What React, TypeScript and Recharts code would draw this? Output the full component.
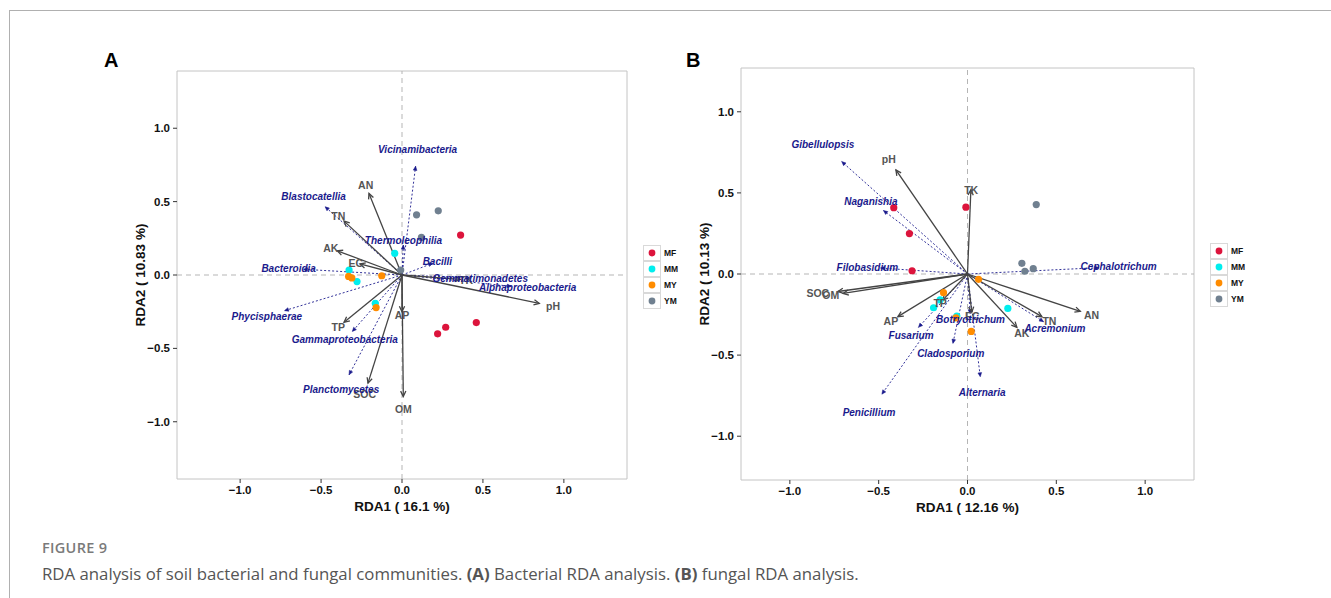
import React from 'react';
import { ScatterChart, Scatter, XAxis, YAxis, ReferenceLine, ReferenceArea, Label } from 'recharts';

type Pt = { x: number; y: number };
type Vec = { name: string; x: number; y: number };

// ---------- shared ----------
const groups = ['MF', 'MM', 'MY', 'YM'];
const groupColors: Record<string, string> = { MF: '#DC143C', MM: '#00EEEE', MY: '#FF8C00', YM: '#708090' };
const axisTicks = [-1, -0.5, 0, 0.5, 1];

// ---------- Panel A: bacteria ----------
const bacMF: Pt[] = [{ x: 0.362, y: 0.272 }, { x: 0.22, y: -0.401 }, { x: 0.27, y: -0.356 }, { x: 0.459, y: -0.324 }];
const bacMM: Pt[] = [{ x: -0.045, y: 0.148 }, { x: -0.327, y: 0.034 }, { x: -0.278, y: -0.045 }, { x: -0.165, y: -0.193 }];
const bacMY: Pt[] = [{ x: -0.33, y: -0.01 }, { x: -0.31, y: -0.02 }, { x: -0.125, y: -0.005 }, { x: -0.16, y: -0.222 }];
const bacYM: Pt[] = [{ x: 0.09, y: 0.41 }, { x: 0.224, y: 0.437 }, { x: 0.12, y: 0.256 }, { x: -0.008, y: 0.034 }];

const bacEnv: Vec[] = [
  { name: 'AN', x: -0.204, y: 0.556 },
  { name: 'TN', x: -0.358, y: 0.367 },
  { name: 'AK', x: -0.4, y: 0.165 },
  { name: 'EC', x: -0.26, y: 0.075 },
  { name: 'TK', x: 0.36, y: -0.03 },
  { name: 'pH', x: 0.848, y: -0.193 },
  { name: 'AP', x: 0.0, y: -0.25 },
  { name: 'TP', x: -0.358, y: -0.322 },
  { name: 'SOC', x: -0.21, y: -0.737 },
  { name: 'OM', x: 0.008, y: -0.828 },
];

const bacTaxa: Vec[] = [
  { name: 'Vicinamibacteria', x: 0.084, y: 0.741 },
  { name: 'Blastocatellia', x: -0.475, y: 0.465 },
  { name: 'Thermoleophilia', x: 0.008, y: 0.204 },
  { name: 'Bacteroidia', x: -0.609, y: 0.039 },
  { name: 'Bacilli', x: 0.19, y: 0.08 },
  { name: 'Gemmatimonadetes', x: 0.42, y: -0.02 },
  { name: 'Alphaproteobacteria', x: 0.675, y: -0.077 },
  { name: 'Phycisphaerae', x: -0.726, y: -0.243 },
  { name: 'Gammaproteobacteria', x: -0.307, y: -0.385 },
  { name: 'Planctomycetes', x: -0.327, y: -0.68 },
];

// ---------- Panel B: fungi ----------
const funMF: Pt[] = [{ x: -0.415, y: 0.409 }, { x: -0.009, y: 0.412 }, { x: -0.327, y: 0.249 }, { x: -0.312, y: 0.02 }];
const funMM: Pt[] = [{ x: -0.154, y: -0.16 }, { x: -0.191, y: -0.208 }, { x: -0.06, y: -0.259 }, { x: 0.227, y: -0.212 }];
const funMY: Pt[] = [{ x: 0.062, y: -0.033 }, { x: -0.135, y: -0.115 }, { x: 0.021, y: -0.354 }, { x: -0.065, y: -0.27 }];
const funYM: Pt[] = [{ x: 0.387, y: 0.428 }, { x: 0.306, y: 0.066 }, { x: 0.323, y: 0.017 }, { x: 0.37, y: 0.033 }];

const funEnv: Vec[] = [
  { name: 'pH', x: -0.403, y: 0.642 },
  { name: 'TK', x: 0.019, y: 0.52 },
  { name: 'SOC', x: -0.73, y: -0.108 },
  { name: 'OM', x: -0.7, y: -0.12 },
  { name: 'AP', x: -0.392, y: -0.263 },
  { name: 'TP', x: -0.14, y: -0.161 },
  { name: 'EC', x: 0.024, y: -0.236 },
  { name: 'AK', x: 0.278, y: -0.329 },
  { name: 'TN', x: 0.419, y: -0.263 },
  { name: 'AN', x: 0.635, y: -0.23 },
];

const funTaxa: Vec[] = [
  { name: 'Gibellulopsis', x: -0.708, y: 0.693 },
  { name: 'Naganishia', x: -0.473, y: 0.391 },
  { name: 'Filobasidium', x: -0.49, y: 0.037 },
  { name: 'Cephalotrichum', x: 0.74, y: 0.039 },
  { name: 'Botryotrichum', x: 0.015, y: -0.245 },
  { name: 'Fusarium', x: -0.276, y: -0.329 },
  { name: 'Cladosporium', x: -0.082, y: -0.428 },
  { name: 'Alternaria', x: 0.072, y: -0.634 },
  { name: 'Penicillium', x: -0.482, y: -0.741 },
  { name: 'Acremonium', x: 0.428, y: -0.294 },
];

// ---------- styling ----------
const FONT = '"Liberation Sans", Arial, Helvetica, sans-serif';
const CAPTION_FONT = '"Open Sans", "Noto Sans", sans-serif';
const ENV_COLOR = '#444444';
const ENV_TEXT = '#555555';
const SPP_COLOR = '#1a1a8c';
const ENV_LABEL_SCALE = 1.1;
const SPP_LABEL_SCALE = 1.15;

const fmt = (v: number) => (v < 0 ? '\u2212' : '') + Math.abs(v).toFixed(1);

function arrowHead(x1: number, y1: number, x2: number, y2: number, L: number, a: number) {
  const ang = Math.atan2(y2 - y1, x2 - x1);
  return {
    ax: x2 - L * Math.cos(ang - a),
    ay: y2 - L * Math.sin(ang - a),
    bx: x2 - L * Math.cos(ang + a),
    by: y2 - L * Math.sin(ang + a),
  };
}

function EnvArrow(props: any) {
  const { x1, y1, x2, y2 } = props;
  const h = arrowHead(x1, y1, x2, y2, 6, 0.45);
  return (
    <g>
      <line x1={x1} y1={y1} x2={x2} y2={y2} stroke={ENV_COLOR} strokeWidth={1.3} />
      <polyline points={`${h.ax},${h.ay} ${x2},${y2} ${h.bx},${h.by}`} fill="none" stroke={ENV_COLOR} strokeWidth={1.3} />
    </g>
  );
}

function SppArrow(props: any) {
  const { x1, y1, x2, y2 } = props;
  const h = arrowHead(x1, y1, x2, y2, 4.5, 0.42);
  return (
    <g>
      <line x1={x1} y1={y1} x2={x2} y2={y2} stroke={SPP_COLOR} strokeWidth={0.9} strokeDasharray="2 2" />
      <polygon points={`${h.ax},${h.ay} ${x2},${y2} ${h.bx},${h.by}`} fill={SPP_COLOR} stroke={SPP_COLOR} strokeWidth={0.5} />
    </g>
  );
}

const makeDot = (color: string) => (p: any) => <circle cx={p.cx} cy={p.cy} r={3.6} fill={color} />;

const makeEnvLabel = (nudge: Record<string, number[]>) => (p: any) => {
  const n = nudge[p.payload.name] || [0, 0];
  return (
    <text x={p.cx + n[0]} y={p.cy + n[1]} textAnchor="middle" dominantBaseline="central"
      fontFamily={FONT} fontSize={10.5} fontWeight="bold" fill={ENV_TEXT}>{p.payload.name}</text>
  );
};

const makeSppLabel = (nudge: Record<string, number[]>) => (p: any) => {
  const n = nudge[p.payload.name] || [0, 0];
  return (
    <text x={p.cx + n[0]} y={p.cy + n[1]} textAnchor="middle" dominantBaseline="central"
      fontFamily={FONT} fontSize={10} fontWeight="bold" fontStyle="italic" fill={SPP_COLOR}>{p.payload.name}</text>
  );
};

type PanelProps = {
  samples: Record<string, Pt[]>;
  env: Vec[];
  taxa: Vec[];
  xDomain: [number, number];
  yDomain: [number, number];
  xTitle: string;
  yTitle: string;
  width: number;
  height: number;
  margin: { top: number; right: number; bottom: number; left: number };
  envNudge: Record<string, number[]>;
  sppNudge: Record<string, number[]>;
};

function Panel(pp: PanelProps) {
  const envLabels = pp.env.map((d) => ({ name: d.name, x: d.x * ENV_LABEL_SCALE, y: d.y * ENV_LABEL_SCALE }));
  const sppLabels = pp.taxa.map((d) => ({ name: d.name, x: d.x * SPP_LABEL_SCALE, y: d.y * SPP_LABEL_SCALE }));
  const tickStyle = { fontSize: 11.5, fontWeight: 'bold', fill: '#111', fontFamily: FONT };
  return (
    <ScatterChart width={pp.width} height={pp.height} margin={pp.margin}>
      <XAxis type="number" dataKey="x" domain={pp.xDomain} ticks={axisTicks} tickFormatter={fmt}
        axisLine={false} tickLine={{ stroke: '#333' }} tickSize={4} tickMargin={3} tick={tickStyle}
        height={45} allowDataOverflow interval={0}>
        <Label content={(p: any) => {
          const vb = p.viewBox;
          return (
            <text x={vb.x + vb.width / 2} y={vb.y + 27} textAnchor="middle" dominantBaseline="central"
              fontFamily={FONT} fontSize={13.5} fontWeight="bold" fill="#111">{pp.xTitle}</text>
          );
        }} />
      </XAxis>
      <YAxis type="number" dataKey="y" domain={pp.yDomain} ticks={axisTicks} tickFormatter={fmt}
        axisLine={false} tickLine={{ stroke: '#333' }} tickSize={4} tickMargin={3} tick={tickStyle}
        width={45} allowDataOverflow interval={0}>
        <Label content={(p: any) => {
          const vb = p.viewBox;
          const cx = vb.x + 8;
          const cy = vb.y + vb.height / 2;
          return (
            <text x={cx} y={cy} transform={`rotate(-90 ${cx} ${cy})`} textAnchor="middle" dominantBaseline="central"
              fontFamily={FONT} fontSize={13.5} fontWeight="bold" fill="#111">{pp.yTitle}</text>
          );
        }} />
      </YAxis>
      <ReferenceArea x1={pp.xDomain[0]} x2={pp.xDomain[1]} y1={pp.yDomain[0]} y2={pp.yDomain[1]}
        fill="none" fillOpacity={0} stroke="#c4c4c4" strokeWidth={1} ifOverflow="visible" />
      <ReferenceLine x={0} stroke="#b5b5b5" strokeDasharray="5 4" strokeWidth={1} />
      <ReferenceLine y={0} stroke="#b5b5b5" strokeDasharray="5 4" strokeWidth={1} />
      {pp.taxa.map((d) => (
        <ReferenceLine key={'t' + d.name} segment={[{ x: 0, y: 0 }, { x: d.x, y: d.y }]} shape={SppArrow} ifOverflow="visible" />
      ))}
      {pp.env.map((d) => (
        <ReferenceLine key={'e' + d.name} segment={[{ x: 0, y: 0 }, { x: d.x, y: d.y }]} shape={EnvArrow} ifOverflow="visible" />
      ))}
      {groups.map((g) => (
        <Scatter key={g} name={g} data={pp.samples[g]} shape={makeDot(groupColors[g])} isAnimationActive={false} />
      ))}
      <Scatter name="envLabels" data={envLabels} shape={makeEnvLabel(pp.envNudge)} isAnimationActive={false} />
      <Scatter name="taxaLabels" data={sppLabels} shape={makeSppLabel(pp.sppNudge)} isAnimationActive={false} />
    </ScatterChart>
  );
}

function GroupLegend({ left, top }: { left: number; top: number }) {
  return (
    <div style={{ position: 'absolute', left, top }}>
      {groups.map((g) => (
        <div key={g} style={{ display: 'flex', alignItems: 'center', height: 16 }}>
          <svg width={18} height={16} style={{ display: 'block' }}>
            <rect x={0.5} y={0.5} width={17} height={15} fill="#fff" stroke="#d9d9d9" />
            <circle cx={9} cy={8} r={3.4} fill={groupColors[g]} />
          </svg>
          <span style={{ marginLeft: 3, fontFamily: FONT, fontSize: 8.5, fontWeight: 'bold', color: '#111' }}>{g}</span>
        </div>
      ))}
    </div>
  );
}

export default function App() {
  return (
    <div style={{ position: 'absolute', left: 0, top: 0, width: 1331, height: 598, background: '#fff', overflow: 'hidden' }}>
      <div style={{ position: 'absolute', left: 9, top: 10, width: 1322, height: 588, borderTop: '1px solid #b0b0b0', borderLeft: '1px solid #b0b0b0' }} />
      <div style={{ position: 'absolute', left: 0, top: 0 }}>
        <Panel
          samples={{ MF: bacMF, MM: bacMM, MY: bacMY, YM: bacYM }}
          env={bacEnv}
          taxa={bacTaxa}
          xDomain={[-1.39, 1.39]}
          yDomain={[-1.39, 1.39]}
          xTitle="RDA1 ( 16.1 %)"
          yTitle="RDA2 ( 10.83 %)"
          width={640}
          height={598}
          margin={{ top: 71, right: 13, bottom: 74, left: 132 }}
          envNudge={{}}
          sppNudge={{}}
        />
      </div>
      <div style={{ position: 'absolute', left: 680, top: 0 }}>
        <Panel
          samples={{ MF: funMF, MM: funMM, MY: funMY, YM: funYM }}
          env={funEnv}
          taxa={funTaxa}
          xDomain={[-1.275, 1.275]}
          yDomain={[-1.27, 1.27]}
          xTitle="RDA1 ( 12.16 %)"
          yTitle="RDA2 ( 10.13 %)"
          width={651}
          height={598}
          margin={{ top: 68, right: 137, bottom: 73, left: 16 }}
          envNudge={{ TK: [0, 9], SOC: [-7, 0] }}
          sppNudge={{}}
        />
      </div>
      <GroupLegend left={643} top={245} />
      <GroupLegend left={1210} top={243} />
      <div style={{ position: 'absolute', left: 104, top: 48, fontFamily: FONT, fontSize: 20, fontWeight: 'bold', color: '#000', lineHeight: '24px' }}>A</div>
      <div style={{ position: 'absolute', left: 686, top: 48, fontFamily: FONT, fontSize: 20, fontWeight: 'bold', color: '#000', lineHeight: '24px' }}>B</div>
      <div style={{ position: 'absolute', left: 42, top: 539, fontFamily: CAPTION_FONT, fontSize: 14.5, fontWeight: 600, color: '#7a7a7a', lineHeight: '18px', letterSpacing: 0.3 }}>FIGURE 9</div>
      <div style={{ position: 'absolute', left: 42, top: 563, fontFamily: CAPTION_FONT, fontSize: 16.8, color: '#555', lineHeight: '22px', whiteSpace: 'nowrap' }}>
        RDA analysis of soil bacterial and fungal communities. <b>(A)</b> Bacterial RDA analysis. <b>(B)</b> fungal RDA analysis.
      </div>
    </div>
  );
}
